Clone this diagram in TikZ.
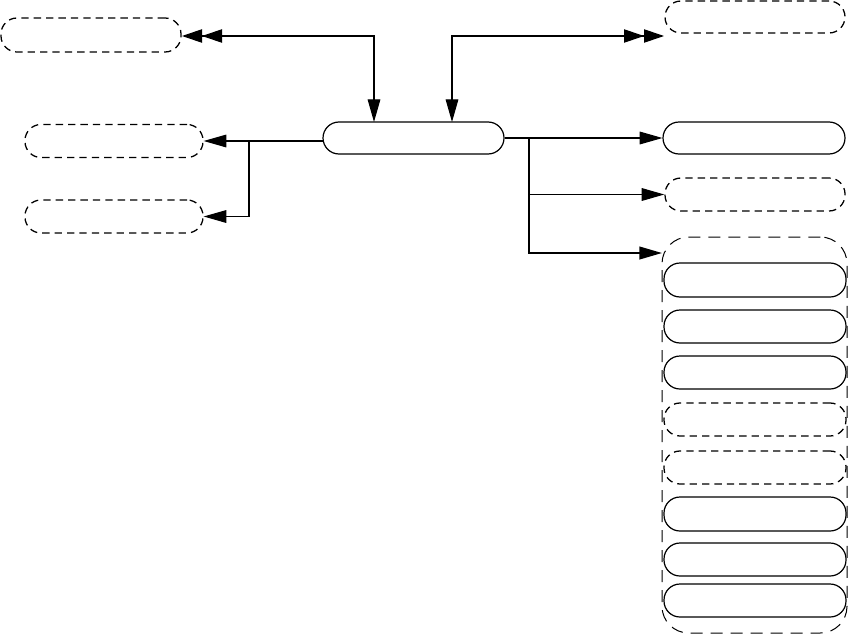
\documentclass[tikz,border=0pt]{standalone}
\usetikzlibrary{arrows.meta}
\begin{document}
\begin{tikzpicture}[x=0.75pt,y=-0.75pt,
  pill/.style={draw=black, line width=0.9pt, rounded corners=12pt, inner sep=0pt,
    minimum width=136pt, minimum height=24.5pt, fill=white},
  dpill/.style={pill, line width=0.95pt, dash pattern=on 5.5pt off 3.8pt},
  grp/.style={draw=black, line width=0.75pt, rounded corners=20pt, inner sep=0pt,
    dash pattern=on 9pt off 6pt},
  conn/.style={line width=0.8pt},
  thickconn/.style={line width=1.5pt},
  tip/.tip={Triangle[length=17pt,width=9.5pt]},
  dtip/.tip={Triangle[length=15pt,width=10pt]Triangle[length=15pt,width=10pt]}
]
\useasboundingbox (0,0) rectangle (848,635);
% group container
\node[grp, minimum width=138.75pt, minimum height=297pt] (G) at (754.5,435) {};
% nodes
\node[dpill, minimum width=135pt, minimum height=25.5pt] (TL) at (91,35) {};
\node[dpill, minimum width=135pt, minimum height=24pt] (TR) at (755,17) {};
\node[pill, minimum width=135.75pt, minimum height=24pt] (C) at (413.5,138) {};
\node[dpill, minimum width=133.5pt, minimum height=24.75pt] (L1) at (114,141) {};
\node[dpill, minimum width=133.5pt, minimum height=24.75pt] (L2) at (114,216.5) {};
\node[pill, minimum width=136.5pt, minimum height=24pt] (R1) at (754,138) {};
\node[dpill, minimum width=135pt, minimum height=24.75pt] (R2) at (755,194.5) {};
\node[pill, minimum width=136.5pt, minimum height=25.5pt] (G1) at (755,280) {};
\node[pill, minimum width=136.5pt, minimum height=24.75pt] (G2) at (755,326.5) {};
\node[pill, minimum width=136.5pt, minimum height=24.75pt] (G3) at (755,372.5) {};
\node[dpill, minimum width=136.5pt, minimum height=24.75pt] (G4) at (755,419.5) {};
\node[dpill, minimum width=136.5pt, minimum height=24.75pt] (G5) at (755,467.5) {};
\node[pill, minimum width=136.5pt, minimum height=25.5pt] (G6) at (755,514) {};
\node[pill, minimum width=136.5pt, minimum height=24.75pt] (G7) at (755,559.5) {};
\node[pill, minimum width=136.5pt, minimum height=24.75pt] (G8) at (755,600.5) {};
% helper coordinates
\coordinate (ca) at (374,122);
\coordinate (cb) at (452,122);
\coordinate (tle) at (182,36);
\coordinate (tre) at (664,36);
\coordinate (lw) at (323,141);
\coordinate (bl) at (249,141);
\coordinate (br) at (529,137);
\coordinate (gin) at (662,253);
% connectors
\draw[conn, {tip}-{dtip}] (ca) |- (tle);
\draw[conn, {tip}-{dtip}] (cb) |- (tre);
\draw[conn, -{tip}] (lw) -- (L1.east);
\draw[conn, -{tip}] (bl) |- (L2.east);
\draw[conn, -{tip}] (C.east) -- (R1.west);
\draw[conn, -{tip}] (br |- R2.west) -- (R2.west);
\draw[thickconn, -{tip}] (br) |- (gin);
\end{tikzpicture}
\end{document}
